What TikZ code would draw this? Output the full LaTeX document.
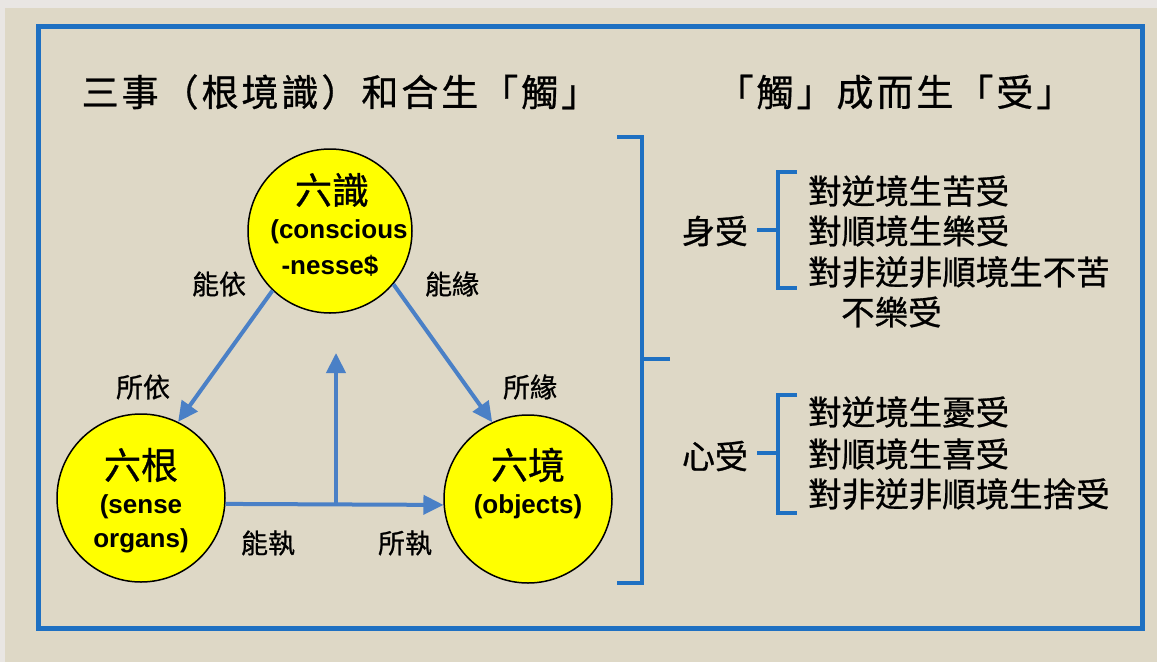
\documentclass[tikz,border=0pt]{standalone}
\usepackage{fontspec}
\usetikzlibrary{arrows.meta}
\newfontfamily\cjk[FakeBold=0.8]{Noto Sans CJK TC}
\newfontfamily\cjkt[FakeBold=0.8,LetterSpace=8.0]{Noto Sans CJK TC}
\newfontfamily\lat{Liberation Sans}
\definecolor{bgbeige}{HTML}{DED8C6}
\definecolor{bggray}{HTML}{E9E6E3}
\definecolor{frameblue}{HTML}{1E70C2}
\definecolor{arrowblue}{HTML}{4A80C6}
\definecolor{circyellow}{HTML}{FFFF00}
\tikzset{
  circ/.style={circle, draw=black, line width=1.5pt, fill=circyellow, minimum size=166pt, inner sep=0pt},
  arr/.style={draw=arrowblue, line width=4pt, -{Triangle[length=20pt,width=19pt]}},
  brk/.style={draw=frameblue, line width=4.5pt},
  title/.style={font=\cjkt\fontsize{37}{40}\selectfont, inner sep=0pt},
  side/.style={font=\cjk\fontsize{33}{36}\selectfont, inner sep=0pt},
  item/.style={font=\cjk\fontsize{33.5}{36}\selectfont, inner sep=0pt, anchor=west},
  lab/.style={font=\cjk\fontsize{27}{30}\selectfont, inner sep=0pt},
  big/.style={font=\cjk\fontsize{37}{40}\selectfont, inner sep=0pt},
  eng/.style={font=\lat\bfseries\fontsize{26}{30}\selectfont, inner sep=0pt},
}
\begin{document}
\begin{tikzpicture}[x=1pt,y=-1pt]
\useasboundingbox (0,0) rectangle (1157,662);
\fill[bggray] (0,0) rectangle (1157,662);
\fill[bgbeige] (5,8) rectangle (1157,662);
\draw[frameblue, line width=5pt] (38,26) rectangle (1142,628);

% titles
\node[title] (t1) at (340,92) {三事（根境識）和合生「觸」};
\node[title] (t2) at (895,92) {「觸」成而生「受」};

% circles
\node[circ, minimum size=164pt] (top) at (330,231) {};
\node[circ, minimum size=168pt] (left) at (141,498) {};
\node[circ, minimum size=168pt] (right) at (528,499) {};

\node[big] (topzh) at (332,190) {六識};
\node[eng] (topen1) at (339,232) {(conscious};
\node[eng] (topen2) at (330,266) {-nesse\$};

\node[big] (leftzh) at (141,465) {六根};
\node[eng] (leften1) at (141,507) {(sense};
\node[eng] (leften2) at (141,541) {organs)};

\node[big] (rightzh) at (528,465) {六境};
\node[eng] (righten) at (528,507) {(objects)};

% arrows
\draw[arr] (top.-134) -- (left.64);
\draw[arr] (top.-40) -- (right.115);
\draw[arr] (left.-4) -- (right.184);
\coordinate (vbot) at (336,504);
\coordinate (vtop) at (336,353);
\draw[arr] (vbot) -- (vtop);

% arrow labels
\node[lab] (l1) at (219,284) {能依};
\node[lab] (l2) at (143,387) {所依};
\node[lab] (l3) at (452,284) {能緣};
\node[lab] (l4) at (530,387) {所緣};
\node[lab] (l5) at (268,543) {能執};
\node[lab] (l6) at (405,543) {所執};

% big bracket
\draw[brk] (617,137) -- (642,137) -- (642,583) -- (617,583);
\draw[brk] (642,359) -- (670,359);

% sub brackets
\node[side] (shen) at (715,231) {身受};
\node[side] (xin) at (715,456) {心受};
\draw[brk] (797,172) -- (778,172) -- (778,288) -- (797,288);
\draw[brk] (757,230) -- (778,230);
\draw[brk] (797,395) -- (778,395) -- (778,513) -- (797,513);
\draw[brk] (757,453) -- (778,453);

% items
\node[item] (i1) at (808,191) {對逆境生苦受};
\node[item] (i2) at (808,231) {對順境生樂受};
\node[item] (i3) at (808,272) {對非逆非順境生不苦};
\node[item] (i4) at (841,312) {不樂受};
\node[item] (i5) at (808,412) {對逆境生憂受};
\node[item] (i6) at (808,454) {對順境生喜受};
\node[item] (i7) at (808,494) {對非逆非順境生捨受};
\end{tikzpicture}
\end{document}
